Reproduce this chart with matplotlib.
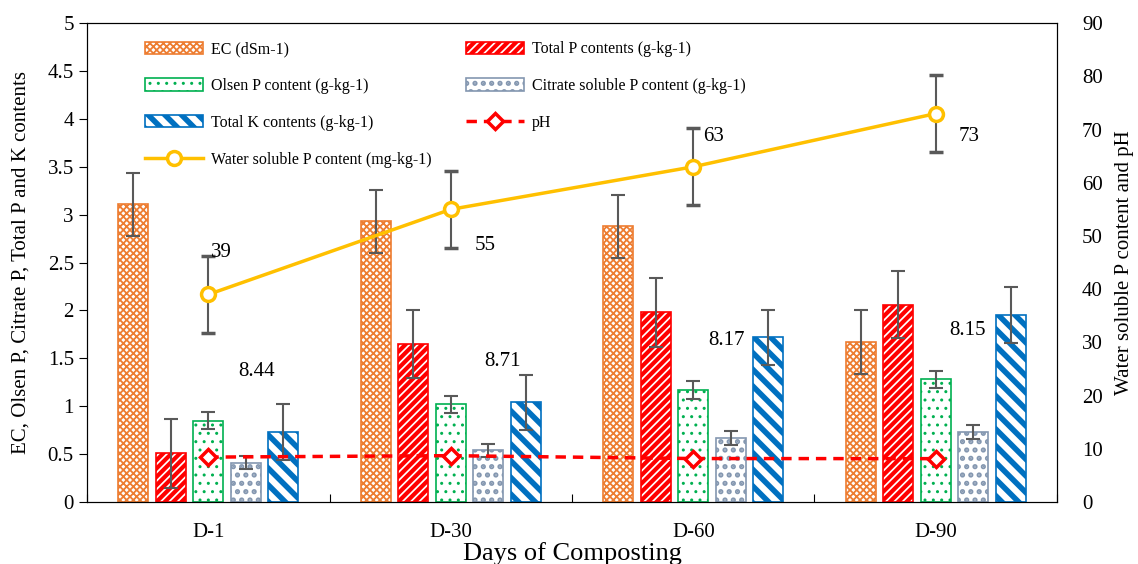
import numpy as np
import matplotlib.pyplot as plt
from matplotlib.lines import Line2D
from matplotlib.patches import Patch

plt.rcParams['font.family'] = ['Liberation Serif', 'DejaVu Serif']

days = ["D-1", "D-30", "D-60", "D-90"]

ec = [3.11, 2.93, 2.88, 1.67]
ec_err = [0.33, 0.33, 0.33, 0.33]
total_p = [0.51, 1.65, 1.98, 2.06]
total_p_err = [0.36, 0.36, 0.36, 0.35]
olsen_p = [0.85, 1.02, 1.17, 1.28]
olsen_p_err = [0.09, 0.09, 0.09, 0.09]
citrate_p = [0.41, 0.54, 0.67, 0.73]
citrate_p_err = [0.07, 0.07, 0.07, 0.07]
total_k = [0.73, 1.04, 1.72, 1.95]
total_k_err = [0.29, 0.29, 0.29, 0.29]

water_p = [39, 55, 63, 73]
water_p_err = [7.2, 7.2, 7.2, 7.2]
ph = [8.44, 8.71, 8.17, 8.15]

# label offsets (pixels) for the annotated values
water_off = [(13, 42), (34, -36), (20, 30), (33, -23)]
ph_off = [(48, 86), (52, 94), (33, 118), (32, 128)]

fig = plt.figure(figsize=(11.38, 5.64), dpi=100)
ax = fig.add_axes([0.0765, 0.1099, 0.8523, 0.8491])
ax2 = ax.twinx()

x = np.arange(len(days)) + 0.5
w = 0.124
step = 0.155

series = [
    ("EC (dSm-1)", ec, ec_err, "#ED7D31", "xxxxx", 1.3),
    ("Total P contents (g-kg-1)", total_p, total_p_err, "#FF0000", "////", 3.0),
    ("Olsen P content (g-kg-1)", olsen_p, olsen_p_err, "#00B050", "..", 1.0),
    ("Citrate soluble P content (g-kg-1)", citrate_p, citrate_p_err, "#8497B0", "..", 2.5),
    ("Total K contents (g-kg-1)", total_k, total_k_err, "#0070C0", "\\\\", 4.0),
]

bar_handles = []
for i, (name, vals, errs, col, hatch, hlw) in enumerate(series):
    pos = x + (i - 2) * step
    plt.rcParams['hatch.linewidth'] = hlw
    bars = ax.bar(pos, vals, w, facecolor="white", edgecolor=col, hatch=hatch,
                  linewidth=1.2, label=name)
    for b in bars:
        if hasattr(b, "set_hatch_linewidth"):
            b.set_hatch_linewidth(hlw)
    ax.errorbar(pos, vals, yerr=errs, fmt="none", ecolor="#595959",
                elinewidth=1.5, capsize=5, capthick=1.5)
    bar_handles.append(bars)

ax.set_xlim(0, 4)
ax.set_ylim(0, 5)
ax.set_yticks(np.arange(0, 5.01, 0.5))
ax.set_yticklabels(["0", "0.5", "1", "1.5", "2", "2.5", "3", "3.5", "4", "4.5", "5"])
ax.set_xticks([0, 1, 2, 3, 4])
ax.set_xticklabels([])
ax.set_xticks(x, minor=True)
ax.set_xticklabels(days, minor=True)
ax.tick_params(axis="x", which="minor", length=0, labelsize=15, pad=15)
ax.tick_params(axis="x", which="major", direction="in", length=6)
ax.tick_params(axis="y", labelsize=15, direction="out", length=6)
ax.set_xlabel("Days of Composting", fontsize=19, labelpad=0)
ax.set_ylabel("EC, Olsen P, Citrate P, Total P and K contents", fontsize=15,
              labelpad=12)

ax2.set_ylim(0, 90)
ax2.set_yticks(np.arange(0, 91, 10))
ax2.tick_params(axis="y", labelsize=15, length=0, pad=18)
ax2.set_ylabel("Water soluble P content and pH", fontsize=15, labelpad=9)

ax2.errorbar(x, water_p, yerr=water_p_err, color="#FFC000", lw=2.5,
             marker="o", markersize=10, markerfacecolor="white",
             markeredgecolor="#FFC000", markeredgewidth=2.5,
             ecolor="#595959", elinewidth=1.5, capsize=5, capthick=1.5)
pl, = ax2.plot(x, ph, color="#FF0000", lw=2.5, ls=(0, (3, 2)), marker="D",
               markersize=8, markerfacecolor="white", markeredgecolor="#FF0000",
               markeredgewidth=2.5)

for xi, v, (dx, dy) in zip(x, water_p, water_off):
    ax2.annotate(str(v), (xi, v), xytext=(dx, dy), textcoords="offset pixels",
                 ha="center", va="center", fontsize=15)
for xi, v, (dx, dy) in zip(x, ph, ph_off):
    ax2.annotate(f"{v:.2f}", (xi, v), xytext=(dx, dy), textcoords="offset pixels",
                 ha="center", va="center", fontsize=15)

# legend laid out row by row (column-first fill, so reorder)
patches = []
for name, vals, errs, col, hatch, hlw in series:
    p = Patch(facecolor="white", edgecolor=col, hatch=hatch, linewidth=1.2)
    patches.append(p)
wl_handle = Line2D([], [], color="#FFC000", lw=2.5, marker="o", markersize=10,
                   markerfacecolor="white", markeredgecolor="#FFC000",
                   markeredgewidth=2.5)
handles = [patches[0], patches[2], patches[4], wl_handle,
           patches[1], patches[3], pl]
labels = [series[0][0], series[2][0], series[4][0], "Water soluble P content (mg-kg-1)",
          series[1][0], series[3][0], "pH"]
leg = ax2.legend(handles, labels, ncol=2, loc="upper left",
                 bbox_to_anchor=(0.045, 0.992), frameon=False, fontsize=11.5,
                 handlelength=3.6, handleheight=0.8, handletextpad=0.5,
                 labelspacing=1.3, columnspacing=2.2)
hlw_order = [series[0][5], series[2][5], series[4][5], series[1][5], series[3][5]]
for p, hlw in zip(leg.get_patches(), hlw_order):
    if hasattr(p, "set_hatch_linewidth"):
        p.set_hatch_linewidth(hlw)

fig.savefig("out.png", dpi=100)
